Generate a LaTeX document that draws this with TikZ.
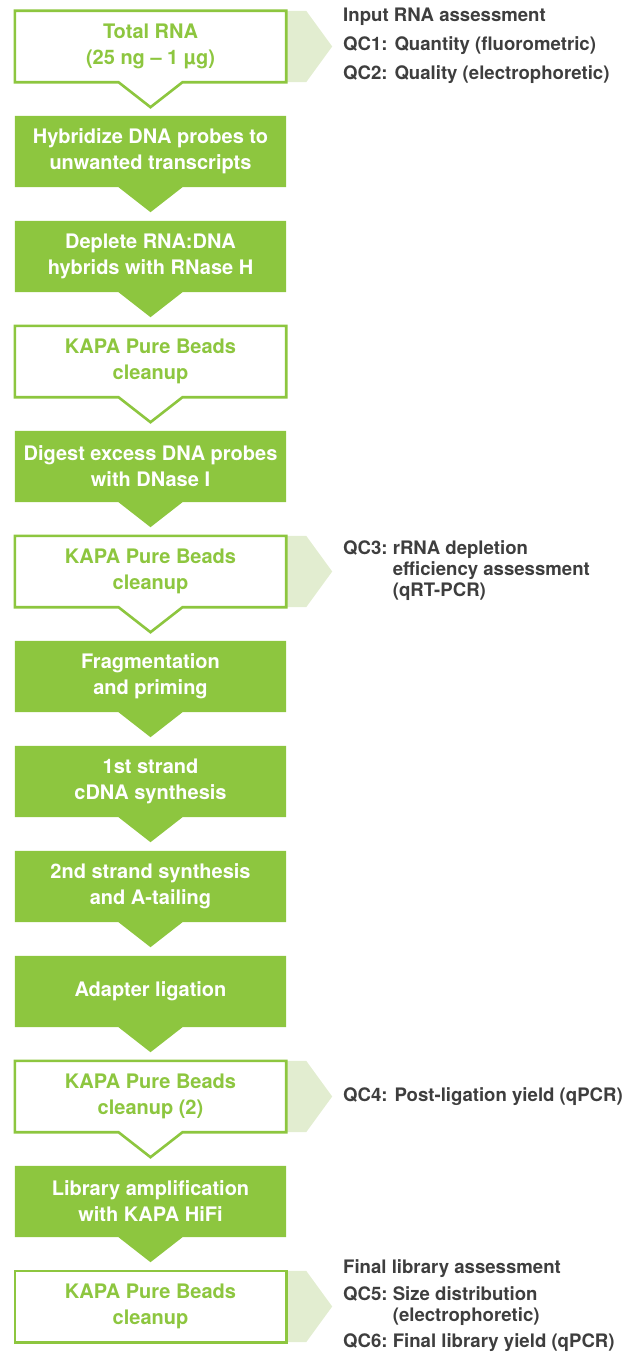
\documentclass[tikz,border=0pt]{standalone}
\usepackage{fontspec}
\setmainfont{TeX Gyre Heros}
\usetikzlibrary{calc,backgrounds}
\definecolor{kgreen}{RGB}{141,198,63}
\definecolor{klight}{RGB}{226,237,208}
\definecolor{kgrey}{RGB}{62,62,62}
\tikzset{
  stepbox/.style={minimum width=271pt,minimum height=71pt,inner sep=0pt,align=center,
    font=\bfseries\fontsize{20}{26}\selectfont},
  fullbox/.style={stepbox,text=white},
  openbox/.style={stepbox,text=kgreen},
  fullshape/.style={fill=kgreen},
  openshape/.style={fill=white,draw=kgreen,line width=2.6pt},
  qcnote/.style={anchor=west,inner sep=0pt,text=kgrey,font=\bfseries\fontsize{18.6}{21}\selectfont}
}
\begin{document}
\begin{tikzpicture}[x=1pt,y=-1pt]
   \useasboundingbox (0,0) rectangle (636,1354);
   \node[openbox] (total) at (150.5,46.5) {Total RNA\\(25 ng – 1 µg)};
   \node[fullbox] (hybridize) at (150.5,151.5) {Hybridize DNA probes to\\unwanted transcripts};
   \node[fullbox] (deplete) at (150.5,256.5) {Deplete RNA:DNA\\hybrids with RNase H};
   \node[openbox] (clean1) at (150.5,361.5) {KAPA Pure Beads\\cleanup};
   \node[fullbox] (digest) at (150.5,466.5) {Digest excess DNA probes\\with DNase I};
   \node[openbox] (clean2) at (150.5,571.5) {KAPA Pure Beads\\cleanup};
   \node[fullbox] (fragment) at (150.5,676.5) {Fragmentation\\and priming};
   \node[fullbox] (first) at (150.5,781.5) {1st strand\\cDNA synthesis};
   \node[fullbox] (second) at (150.5,886.5) {2nd strand synthesis\\and A-tailing};
   \node[fullbox] (ligate) at (150.5,991.5) {Adapter ligation};
   \node[openbox] (clean3) at (150.5,1096.5) {KAPA Pure Beads\\cleanup (2)};
   \node[fullbox] (amplify) at (150.5,1201.5) {Library amplification\\with KAPA HiFi};
   \node[openbox] (clean4) at (150.5,1306.5) {KAPA Pure Beads\\cleanup};
   \node[qcnote] (qcinput) at (343,46.5) {\begin{tabular}{@{}l@{}}Input RNA assessment\\[8pt]QC1: Quantity (fluorometric)\\[8pt]QC2: Quality (electrophoretic)\end{tabular}};
   \node[qcnote] (qcdepletion) at (343,571.5) {\begin{tabular}{@{}l@{\ }l@{}}QC3: & rRNA depletion\\ & efficiency assessment\\ & (qRT-PCR)\end{tabular}};
   \node[qcnote] (qcligation) at (343,1096.5) {QC4: Post-ligation yield (qPCR)};
   \node[qcnote] (qcfinal) at (343,1306.5) {\begin{tabular}{@{}l@{\ }l@{}}\multicolumn{2}{@{}l@{}}{Final library assessment}\\[6pt]QC5: & Size distribution\\ & (electrophoretic)\\[5pt]QC6: & Final library yield (qPCR)\end{tabular}};
   \begin{scope}[on background layer]
   \foreach \n in {total,clean2,clean3,clean4}
      \fill[klight] (\n.north east) -- ++(20,0) -- ($(\n.east)+(46,0)$) -- ($(\n.south east)+(20,0)$) -- (\n.south east) -- cycle;
   \foreach \n/\s in {total/openshape,hybridize/fullshape,deplete/fullshape,clean1/openshape,digest/fullshape,clean2/openshape,fragment/fullshape,first/fullshape,second/fullshape,ligate/fullshape,clean3/openshape,amplify/fullshape}
      \path[\s] (\n.north west) -- (\n.north east) -- (\n.south east) -- ($(\n.south)+(32,0)$) -- ($(\n.south)+(0,25)$) -- ($(\n.south)+(-32,0)$) -- (\n.south west) -- cycle;
   \path[openshape] (clean4.north west) rectangle (clean4.south east);
   \end{scope}
\end{tikzpicture}
\end{document}
